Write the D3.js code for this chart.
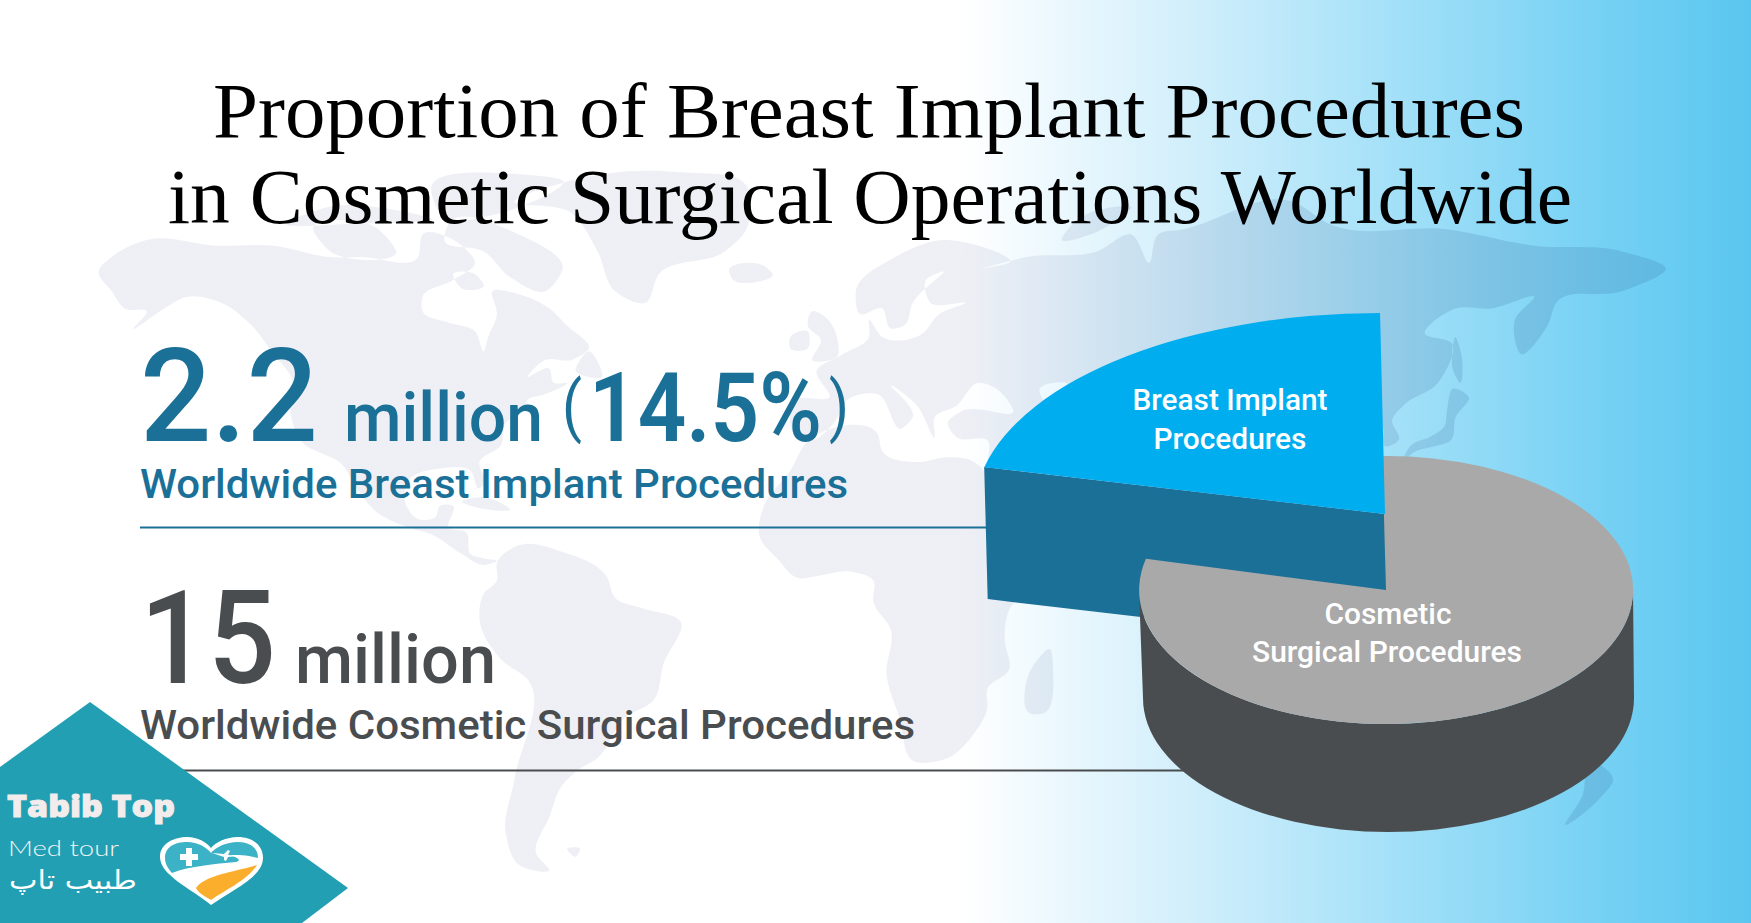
<!DOCTYPE html>
<html>
<head>
<meta charset="utf-8">
<title>Breast Implant Procedures</title>
<script src="https://cdn.jsdelivr.net/npm/d3@7"></script>
<style>
  html, body { margin: 0; padding: 0; background: #fff; overflow: hidden; }
  svg { display: block; }
</style>
</head>
<body>
<div id="chart"></div>
<script>
const titleLines = ['Proportion of Breast Implant Procedures', 'in Cosmetic Surgical Operations Worldwide'];
const statMillions = [2.2, 15];
const statPercent = 14.5;
const statCaptions = ['Worldwide Breast Implant Procedures', 'Worldwide Cosmetic Surgical Procedures'];

// wedge sizes as they are drawn in the picture (the wedge is wider than the 14.5% it stands for)
const sliceNames = ['Cosmetic Surgical Procedures', 'Breast Implant Procedures'];
const sliceShares = [78.75, 21.25];

const logoTexts = ['Tabib Top', 'Med tour', 'طبیب تاپ'];

// background map, rough outlines in [lon, lat]
const northAmerica = [[-168,65.5],[-165,68],[-157,71],[-141,70],[-128,70],[-115,68],[-108,68],[-95,68],[-94,72],[-85,70],[-82,67],[-87,64],[-94,61],[-94,58.5],[-88,56.5],[-82,55],[-80,51.5],[-79,54],[-77,58],[-78,62],[-72,61.5],[-65,59],[-61,56],[-56,52],[-60,50],[-66,50],[-70,47],[-65,48.5],[-64,46],[-61,46],[-66,44],[-70,43],[-71,41],[-75,39],[-76,35],[-81,31],[-80,26],[-81,25],[-83,29],[-90,29.5],[-97,27],[-98,22],[-95,18],[-91,18.5],[-90,21],[-87,21],[-88,16],[-84,15],[-83,10],[-80,9],[-77,8.5],[-80,7.5],[-85,10],[-92,14.5],[-97,16],[-105,20],[-109,25],[-113,31],[-117,33],[-121,35],[-124,40],[-124,47],[-128,51],[-133,56],[-140,60],[-148,61],[-153,59],[-160,55.5],[-157,58.5],[-162,59],[-165,62]];
const baffin = [[-88,74],[-72,72],[-62,66],[-66,62],[-74,64.5],[-80,69],[-89,71]];
const southampton = [[-87,65],[-82,65],[-80,63],[-85,62.5]];
const victoria = [[-119,73],[-105,73.5],[-100,69],[-115,69]];
const ellesmere = [[-92,80],[-70,83],[-62,82],[-76,76],[-90,76]];
const banks = [[-125,74],[-116,77],[-100,76.5],[-92,75],[-110,74]];
const newfoundland = [[-59,48],[-56,51.5],[-53,47]];
const cuba = [[-85,22],[-80,23],[-74,20],[-78,20]];
const greenland = [[-73,78],[-60,82],[-35,83.5],[-20,81],[-20,73],[-25,69],[-40,65],[-43,60],[-50,62],[-54,69],[-60,76]];
const iceland = [[-24,65.5],[-16,66.5],[-14,65],[-19,63.5],[-23,64]];
const britain = [[-5,58.5],[-2,57.5],[1,52.5],[1,51],[-5,50],[-3,53.5],[-6,56]];
const ireland = [[-10,54],[-6,55],[-6,52],[-10,52]];
const southAmerica = [[-77,8],[-72,12],[-62,10.5],[-52,5],[-50,0],[-44,-2.5],[-35,-6],[-39,-15],[-41,-22],[-48,-26],[-54,-34],[-58,-36],[-62,-39],[-65,-45],[-68,-52],[-65,-55],[-72,-54],[-75,-48],[-73,-38],[-70,-18],[-76,-14],[-81,-5],[-80,1],[-77,4]];
const falklands = [[-61,-51],[-58,-51],[-59,-52.5]];
const africa = [[-6,35.8],[10,37],[11,33.5],[20,31],[25,32],[32,31],[35,28],[37,21],[43,12],[51,12],[47,4],[40,-3],[39,-10],[40,-16],[35,-20],[35,-24],[32,-29],[26,-34],[18,-34.5],[15,-26],[12,-17],[13,-8],[9,-1],[9,4],[4,6],[-4,5],[-8,4.5],[-13,9],[-17,14],[-16,21],[-10,29]];
const madagascar = [[49.5,-12],[50,-15.5],[47.5,-25],[45,-25],[44.5,-17]];
const eurasia = [[-9,37],[-9,43],[-1,43.5],[-4,48],[2,51],[8,54],[8,57],[11,54],[20,54.5],[24,58],[30,60],[22,60],[21,64],[25,65.5],[18,60],[16,56],[13,55.5],[11,59],[6,58],[5,62],[14,68],[25,71],[40,67],[34,66],[44,68],[60,69],[68,72],[72,67],[74,72],[80,73],[105,78],[113,74],[140,73],[160,70],[180,69],[190,66],[180,62],[165,60],[163,56],[157,51],[155.5,57],[160,61],[150,59],[142,59],[135,54.5],[141,53],[138,46],[130,42],[127.5,39.5],[129,36],[126,34.5],[125,39],[121,40],[118,38],[122,37],[120,33],[122,30],[117,23],[110,21],[106,19],[109,13],[105,9],[100,13],[104,1.5],[98,8],[97,16],[92,21],[87,21],[80,15],[78,8],[73,18],[72,21],[67,25],[57,25.5],[50,30],[48,30],[51,26],[56,24.5],[60,22],[52,16],[43,13],[39,21],[35,28],[35,36],[28,36.5],[26,39],[29,41],[41,41],[37,45],[33,46],[28,42],[23,40],[23,36.5],[19,42],[13,45.5],[18,40],[15.5,38],[10,44],[3,43],[0,39],[-5,36]];
const caspian = [[47,45],[53,46],[53,37],[50,37],[49,41]];
const novayaZemlya = [[52,71],[56,75],[68,77],[60,72.5]];
const sakhalin = [[142,54],[143.5,50],[143,46],[141.5,48]];
const japan = [[130,31.5],[132,35],[136,36.5],[139.5,38.5],[140,41],[141.5,45],[145,43.5],[142,40],[141,36],[137,34.5],[133,33.5]];
const newZealand = [[172.5,-34.5],[178,-38],[175,-41.5],[167,-46.5],[171,-41]];
const landShapes = [northAmerica, baffin, southampton, victoria, ellesmere, banks, newfoundland, cuba, greenland, iceland, britain, ireland, southAmerica, falklands, africa, madagascar, eurasia, caspian, novayaZemlya, sakhalin, japan, newZealand];

const width = 1751;
const height = 923;
const BLUE = '#1b7098';
const GREY = '#4a4d4f';

const svg = d3.select('#chart').append('svg')
  .attr('width', width)
  .attr('height', height);

const defs = svg.append('defs');

const bgGrad = defs.append('linearGradient').attr('id', 'bgFade')
  .attr('gradientUnits', 'userSpaceOnUse')
  .attr('x1', 0).attr('x2', width).attr('y1', 0).attr('y2', 0);
[[960, '#ffffff'], [1200, '#cfeefb'], [1400, '#a2e0f8'], [1600, '#76d1f4'], [1751, '#5ac6ef']].forEach(s => {
  bgGrad.append('stop').attr('offset', s[0] / width).attr('stop-color', s[1]);
});

const landGrad = defs.append('linearGradient').attr('id', 'landFade')
  .attr('gradientUnits', 'userSpaceOnUse')
  .attr('x1', 0).attr('x2', width).attr('y1', 0).attr('y2', 0);
[[1000, '#323c82', 0.08], [1500, '#2a5a90', 0.17]].forEach(s => {
  landGrad.append('stop').attr('offset', s[0] / width).attr('stop-color', s[1]).attr('stop-opacity', s[2]);
});

svg.append('rect').attr('width', width).attr('height', height).attr('fill', 'url(#bgFade)');

// map, latitude is stretched unevenly like the projection in the picture
const lonScale = d3.scaleLinear().domain([-180, 180]).range([46, 1622]);
const latScale = d3.scaleLinear()
  .domain([-55, -34, -8, 0, 36, 54, 71, 83])
  .range([870, 758, 630, 598, 440, 337, 240, 175]);
const landLine = d3.line().x(d => lonScale(d[0])).y(d => latScale(d[1])).curve(d3.curveCatmullRomClosed.alpha(1));

svg.append('path')
  .attr('d', landShapes.map(s => landLine(s)).join(' '))
  .attr('fill', 'url(#landFade)')
  .attr('fill-rule', 'evenodd');

function addText(x, y, str, size, weight, fill, length, family) {
  const t = svg.append('text')
    .attr('x', x)
    .attr('y', y)
    .attr('font-family', family || 'Roboto')
    .attr('font-size', size)
    .attr('font-weight', weight)
    .attr('fill', fill)
    .text(str);
  if (length) t.attr('textLength', length).attr('lengthAdjust', 'spacingAndGlyphs');
  return t;
}

// title
addText(213, 137, titleLines[0], 78, 400, '#000', 1312, 'Liberation Serif');
addText(168, 223, titleLines[1], 78, 400, '#000', 1404, 'Liberation Serif');

// big numbers
addText(140, 441, statMillions[0], 130, 500, BLUE, 178);
addText(344, 441, 'million', 69, 500, BLUE, 199);
addText(562, 429, '(', 66, 400, BLUE, 20);
addText(589, 441, `${statPercent}%`, 96, 600, BLUE, 233);
addText(829, 429, ')', 66, 400, BLUE, 20);
addText(140, 498, statCaptions[0], 41, 500, BLUE, 708);

addText(140, 683, statMillions[1], 130, 500, GREY, 136);
addText(295, 683, 'million', 69, 500, GREY, 201);
addText(140, 739, statCaptions[1], 41, 500, GREY, 775);

svg.append('line').attr('x1', 140).attr('x2', 990).attr('y1', 527.5).attr('y2', 527.5)
  .attr('stroke', BLUE).attr('stroke-width', 2);
svg.append('line').attr('x1', 170).attr('x2', 1185).attr('y1', 770.5).attr('y2', 770.5)
  .attr('stroke', GREY).attr('stroke-width', 2);

// pie: d3 arcs on a unit radius, squashed to ellipses by the group transform
const pie = d3.pie().sort(null).value(d => d);
const slices = pie(sliceShares);
const arc = d3.arc().innerRadius(0).outerRadius(1);

const bodyPie = { cx: 1386, cy: 590, rx: 247, ry: 134, depth: 108, footLeft: 1143, footRight: 1634 };
const liftPie = { cx: 1385, cy: 514, rx: 411, ry: 201, depth: 132, skew: 3.5, lean: 1.42 };

const leanDx = Math.tan(liftPie.lean * Math.PI / 180);
const liftEdge = a => {
  const y = -liftPie.ry * Math.cos(a);
  return [liftPie.cx + liftPie.rx * Math.sin(a) + y * leanDx, liftPie.cy + y];
};

// breast implant slice side, goes behind the grey body
const liftEnd = liftEdge(slices[1].startAngle);
const liftSide = [
  liftEnd,
  [liftPie.cx, liftPie.cy],
  [liftPie.cx + liftPie.skew, liftPie.cy + liftPie.depth],
  [liftEnd[0] + liftPie.skew, liftEnd[1] + liftPie.depth]
];
svg.append('path')
  .attr('d', d3.line()(liftSide) + 'Z')
  .attr('fill', BLUE);

// grey body side
const footRx = (bodyPie.footRight - bodyPie.footLeft) / 2;
svg.append('path')
  .attr('d', `M${bodyPie.cx - bodyPie.rx},${bodyPie.cy}
    L${bodyPie.footLeft},${bodyPie.cy + bodyPie.depth}
    A${footRx},${bodyPie.ry} 0 0 0 ${bodyPie.footRight},${bodyPie.cy + bodyPie.depth}
    L${bodyPie.cx + bodyPie.rx},${bodyPie.cy}
    A${bodyPie.rx},${bodyPie.ry} 0 0 1 ${bodyPie.cx - bodyPie.rx},${bodyPie.cy} Z`)
  .attr('fill', GREY);

// start a hair early so no gap shows against the lifted slice
svg.append('path')
  .attr('transform', `translate(${bodyPie.cx},${bodyPie.cy}) scale(${bodyPie.rx},${bodyPie.ry})`)
  .attr('d', arc({ ...slices[0], startAngle: slices[0].startAngle - 0.015 }))
  .attr('fill', '#a9a9a9');

svg.append('path')
  .attr('transform', `translate(${liftPie.cx},${liftPie.cy}) skewX(${liftPie.lean}) scale(${liftPie.rx},${liftPie.ry})`)
  .attr('d', arc(slices[1]))
  .attr('fill', '#00adef');

// slice labels
const labelStyle = (sel) => sel.attr('text-anchor', 'middle');
labelStyle(addText(1230, 410, 'Breast Implant', 29.5, 500, '#fff', 195));
labelStyle(addText(1230, 449, 'Procedures', 29.5, 500, '#fff', 153));
labelStyle(addText(1388, 624, 'Cosmetic', 29.5, 500, '#fff', 127));
labelStyle(addText(1387, 662, 'Surgical Procedures', 29.5, 500, '#fff', 270));

// logo
svg.append('path')
  .attr('d', 'M90,702 L348,888 L302,923 L0,923 L0,767 Z')
  .attr('fill', '#229fb3');
addText(7, 817, logoTexts[0], 30, 800, '#f3ecec', 168, 'Open Sans')
  .attr('stroke', '#f3ecec').attr('stroke-width', 0.9);
addText(8, 856, logoTexts[1], 22, 300, '#f1f4f4', 111, 'Lato');
addText(137, 889, logoTexts[2], 26, 400, '#ffffff', 128, 'DejaVu Sans').attr('direction', 'rtl');

svg.append('path')
  .attr('d', 'M211,905 C190,888 160,875 160,857 C160,843 175,837 187,837 C198,837 206,842 211,848 C216,842 226,837 238,837 C252,837 263,845 263,858 C263,877 232,890 211,905 Z')
  .attr('fill', '#fff');
svg.append('path')
  .attr('d', 'M165,858 C165,846 176,842 187,842 C198,842 206,847 211,853 C216,847 226,842 238,842 C250,842 258,848 258,858 C248,855 238,855 230,855 C238,858 242,860 236,862 C215,864 190,866 172,873 C168,868 165,864 165,858 Z')
  .attr('fill', '#3bb2c6');
svg.append('path')
  .attr('d', 'M257,865 C235,872 205,875 196,888 C198,893 206,897 211,900 C225,890 248,880 257,865 Z')
  .attr('fill', '#fbae2c');
svg.append('path')
  .attr('d', 'M186,848 h6 v6 h6 v6 h-6 v6 h-6 v-6 h-6 v-6 h6 Z')
  .attr('fill', '#fff');
svg.append('path')
  .attr('d', 'M212,853 L224,854 L228,850 L230,851 L228,855 L238,856 L228,857 L226,861 L224,860 L224,857 Z')
  .attr('fill', '#fff');
</script>
</body>
</html>
